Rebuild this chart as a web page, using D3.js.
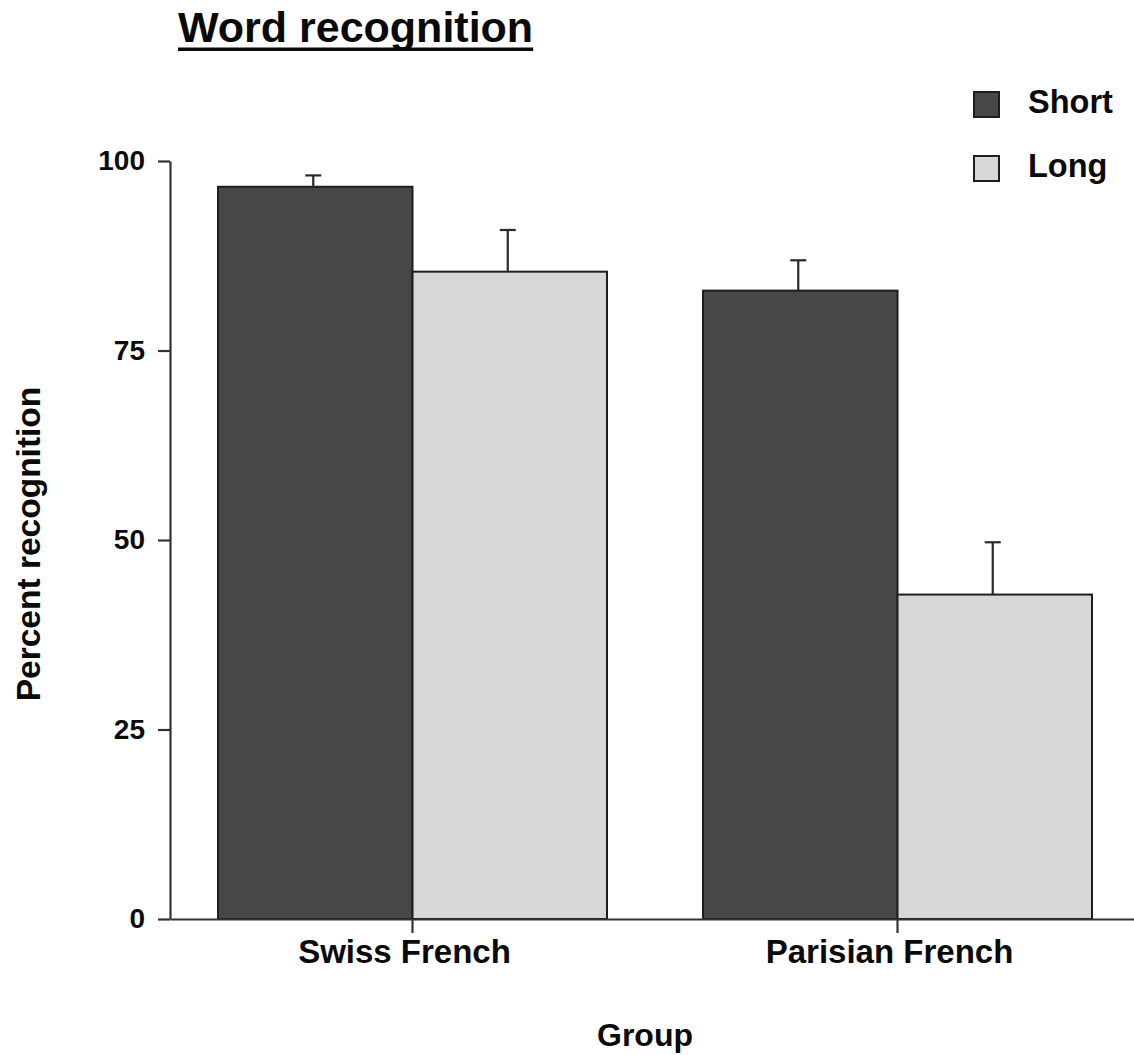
<!DOCTYPE html>
<html>
<head>
<meta charset="utf-8">
<script src="https://cdn.jsdelivr.net/npm/d3@7"></script>
<style>
  html, body { margin: 0; padding: 0; background: #fff; }
  svg { display: block; font-family: "Liberation Sans", Arial, Helvetica, sans-serif; }
</style>
</head>
<body>
<svg id="chart" width="1134" height="1055"></svg>
<script>
// Word recognition by group and word length
const groups = ["Swiss French", "Parisian French"];
const series = ["Short", "Long"];
const means = {
  "Short": [96.6, 82.9],
  "Long": [85.4, 42.8]
};
const errors = {
  "Short": [1.5, 4.0],
  "Long": [5.5, 6.9]
};
const yTicks = [0, 25, 50, 75, 100];
const colors = { "Short": "#474747", "Long": "#d7d7d7" };

const svg = d3.select("#chart");
const axisColor = "#333";
const textColor = "#0a0a0a";

const y = d3.scaleLinear().domain([0, 100]).range([919, 161]);
const x0 = d3.scaleBand().domain(groups).range([170, 1140]).paddingInner(0).paddingOuter(0);
const x1 = d3.scaleBand().domain(series).range([48, 437]).padding(0);

// Bars
const rows = [];
groups.forEach((g, gi) => series.forEach(s => rows.push({ g, s, v: means[s][gi], e: errors[s][gi] })));

svg.append("g").selectAll("rect").data(rows).join("rect")
  .attr("x", d => x0(d.g) + x1(d.s))
  .attr("y", d => y(d.v))
  .attr("width", x1.bandwidth())
  .attr("height", d => y(0) - y(d.v))
  .attr("fill", d => colors[d.s])
  .attr("stroke", "#1e1e1e")
  .attr("stroke-width", 2);

// Error bars (upper only)
const eb = svg.append("g").attr("stroke", "#2a2a2a").attr("stroke-width", 2.2);
rows.forEach(d => {
  const cx = x0(d.g) + x1(d.s) + x1.bandwidth() / 2 - 2;
  eb.append("line").attr("x1", cx).attr("x2", cx).attr("y1", y(d.v)).attr("y2", y(d.v + d.e));
  eb.append("line").attr("x1", cx - 8).attr("x2", cx + 8).attr("y1", y(d.v + d.e)).attr("y2", y(d.v + d.e));
});

// Axes
const yAxis = svg.append("g").attr("transform", "translate(170,0)")
  .call(d3.axisLeft(y).tickValues(yTicks).tickSize(12).tickSizeOuter(0).tickPadding(13));
const xAxis = svg.append("g").attr("transform", "translate(0,919)")
  .call(d3.axisBottom(x0).tickSize(14).tickSizeOuter(0).tickPadding(7));

[yAxis, xAxis].forEach(a => {
  a.select(".domain").attr("stroke", axisColor).attr("stroke-width", 2.2);
  a.selectAll(".tick line").attr("stroke", axisColor).attr("stroke-width", 2.2);
  a.selectAll("text").attr("fill", textColor).style("font-weight", "bold");
});
yAxis.selectAll("text").style("font-size", "28px");
xAxis.selectAll("text").style("font-size", "33px").attr("dx", -8);

// Title with underline
const title = svg.append("text")
  .attr("x", 178).attr("y", 42)
  .style("font-size", "43px").style("font-weight", "bold").attr("fill", textColor)
  .text("Word recognition");
const tw = title.node().getComputedTextLength();
svg.append("rect").attr("x", 178).attr("y", 47.5).attr("width", tw).attr("height", 3.5).attr("fill", textColor);

// Axis titles
svg.append("text")
  .attr("transform", "translate(40,544) rotate(-90)")
  .attr("text-anchor", "middle")
  .style("font-size", "33.5px").style("font-weight", "bold").attr("fill", textColor)
  .text("Percent recognition");

svg.append("text")
  .attr("x", 645).attr("y", 1046)
  .attr("text-anchor", "middle")
  .style("font-size", "32px").style("font-weight", "bold").attr("fill", textColor)
  .text("Group");

// Legend
const legend = svg.append("g");
series.forEach((s, i) => {
  const ly = 92 + i * 64;
  legend.append("rect")
    .attr("x", 974).attr("y", ly).attr("width", 25).attr("height", 25)
    .attr("fill", colors[s]).attr("stroke", "#1e1e1e").attr("stroke-width", 2);
  legend.append("text")
    .attr("x", 1028).attr("y", ly + 21)
    .style("font-size", "32.5px").style("font-weight", "bold").attr("fill", textColor)
    .text(s);
});
</script>
</body>
</html>
